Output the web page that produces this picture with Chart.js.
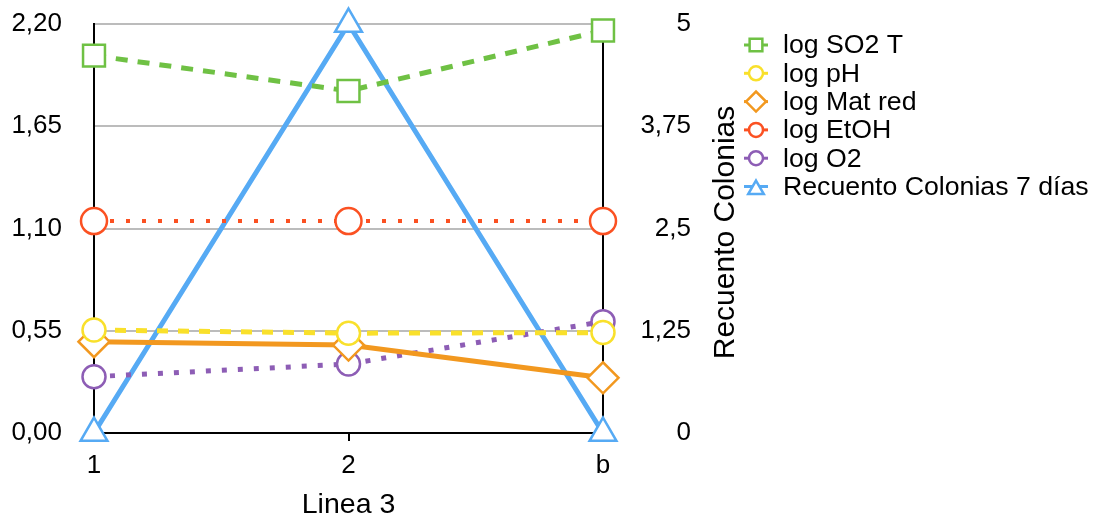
<!DOCTYPE html>
<html>
<head>
<meta charset="utf-8">
<script src="https://cdn.jsdelivr.net/npm/chart.js@4/dist/chart.umd.min.js"></script>
<style>
  html, body { margin: 0; padding: 0; background: #fff; }
  #wrap { width: 1098px; height: 526px; }
</style>
</head>
<body>
<div id="wrap"><canvas id="Chart" width="1098" height="526"></canvas></div>
<script>
// categorias del eje x
let categorias = ['1', '2', 'b'];

// series (eje izquierdo)
let logSO2T = [2.03, 1.84, 2.165];
let logPH = [0.554, 0.537, 0.540];
let logMatRed = [0.491, 0.473, 0.297];
let logEtOH = [1.140, 1.140, 1.140];
let logO2 = [0.303, 0.371, 0.599];
// serie eje derecho
let recuento7 = [0, 5, 0];

// marcas de los ejes
let ticksIzq = [0, 0.55, 1.10, 1.65, 2.20];
let etiquetasIzq = ['0,00', '0,55', '1,10', '1,65', '2,20'];
let ticksDer = [0, 1.25, 2.5, 3.75, 5];
let etiquetasDer = ['0', '1,25', '2,5', '3,75', '5'];

let fuente = "'Liberation Sans', Arial, sans-serif";

// titulo del eje derecho (leido de abajo hacia arriba) y leyenda
let extras = {
	id: 'extras',
	afterDraw(chart) {
		let ctx = chart.ctx;
		let yDer = chart.scales.yDer;
		ctx.save();
		ctx.fillStyle = '#000';
		ctx.font = '30px ' + fuente;
		ctx.textAlign = 'center';
		ctx.textBaseline = 'middle';
		ctx.translate(726, (yDer.top + yDer.bottom) / 2 + 4);
		ctx.rotate(-Math.PI / 2);
		ctx.fillText('Recuento Colonias', 0, 0);
		ctx.restore();

		// leyenda
		let radios = { rect: 9, circle: 7, rectRot: 10, triangle: 9 };
		chart.data.datasets.forEach(function (ds, i) {
			let y = 45 + i * 28.3;
			ctx.save();
			ctx.strokeStyle = ds.borderColor;
			ctx.lineWidth = 3;
			ctx.beginPath();
			ctx.moveTo(744, y);
			ctx.lineTo(768, y);
			ctx.stroke();
			ctx.fillStyle = '#fff';
			ctx.lineWidth = 2.5;
			Chart.helpers.drawPoint(ctx, {
				pointStyle: ds.pointStyle,
				radius: radios[ds.pointStyle],
				rotation: 0,
				borderWidth: 2.5
			}, 756, y + (ds.pointStyle === 'triangle' ? 3 : 0));
			ctx.fillStyle = '#000';
			ctx.font = '26.7px ' + fuente;
			ctx.textAlign = 'left';
			ctx.textBaseline = 'middle';
			ctx.fillText(ds.label, 783, y + 1);
			ctx.restore();
		});
	}
};

let ctx = document.getElementById('Chart');
let config = {
	type: 'line',
	data: {
		labels: categorias,
		datasets: [{
			label: 'log SO2 T',
			data: logSO2T,
			yAxisID: 'yIzq',
			borderColor: '#6fc144',
			borderWidth: 5,
			borderDash: [12, 10],
			pointStyle: 'rect',
			pointRadius: 15.5,
			pointBorderWidth: 2.5,
			pointBackgroundColor: '#fff',
		}, {
			label: 'log pH',
			data: logPH,
			yAxisID: 'yIzq',
			borderColor: '#f9e02b',
			borderWidth: 5,
			borderDash: [11, 10],
			pointStyle: 'circle',
			pointRadius: 11.5,
			pointBorderWidth: 2.5,
			pointBackgroundColor: '#fff',
		}, {
			label: 'log Mat red',
			data: logMatRed,
			yAxisID: 'yIzq',
			borderColor: '#f2981f',
			borderWidth: 5,
			pointStyle: 'rectRot',
			pointRadius: 15.5,
			pointBorderWidth: 2.5,
			pointBackgroundColor: '#fff',
		}, {
			label: 'log EtOH',
			data: logEtOH,
			yAxisID: 'yIzq',
			borderColor: '#fb5122',
			borderWidth: 4,
			borderDash: [4, 12],
			pointStyle: 'circle',
			pointRadius: 13,
			pointBorderWidth: 2.5,
			pointBackgroundColor: '#fff',
		}, {
			label: 'log O2',
			data: logO2,
			yAxisID: 'yIzq',
			borderColor: '#8d5db5',
			borderWidth: 5,
			borderDash: [5, 11],
			pointStyle: 'circle',
			pointRadius: 11.5,
			pointBorderWidth: 2.5,
			pointBackgroundColor: '#fff',
		}, {
			label: 'Recuento Colonias 7 días',
			data: recuento7,
			yAxisID: 'yDer',
			borderColor: '#56aaf4',
			borderWidth: 5,
			pointStyle: 'triangle',
			pointRadius: 15.5,
			pointBorderWidth: 2.5,
			pointBackgroundColor: '#fff',
		}],
	},
	options: {
		responsive: false,
		animation: false,
		clip: false,
		layout: { padding: { top: 24, left: 0, right: 407, bottom: 0 } },
		elements: { line: { tension: 0 } },
		plugins: {
			legend: { display: false },
			tooltip: { enabled: false },
		},
		scales: {
			x: {
				type: 'category',
				offset: false,
				grid: { display: true, drawOnChartArea: false, drawTicks: true, tickLength: 8, color: '#000', lineWidth: 2 },
				border: { display: true, color: '#000', width: 2 },
				ticks: { color: '#000', font: { family: fuente, size: 26 }, padding: 9, maxRotation: 0 },
				title: { display: true, text: 'Linea 3', color: '#000', font: { family: fuente, size: 28.5 }, padding: { top: 0, bottom: 4 } },
				afterFit(s) { s.height = 93; },
			},
			yIzq: {
				position: 'left',
				min: 0,
				max: 2.2,
				afterBuildTicks(s) { s.ticks = ticksIzq.map(v => ({ value: v })); },
				grid: { color: '#bcbcbc', lineWidth: 2, drawTicks: true, tickLength: 32, tickColor: 'rgba(0,0,0,0)' },
				border: { display: true, color: '#000', width: 2 },
				ticks: {
					color: '#000', font: { family: fuente, size: 26 }, padding: 0,
					callback: (v, i) => etiquetasIzq[i],
				},
				afterFit(s) { s.width = 94; },
			},
			yDer: {
				position: 'right',
				min: 0,
				max: 5,
				afterBuildTicks(s) { s.ticks = ticksDer.map(v => ({ value: v })); },
				grid: { drawOnChartArea: false, drawTicks: true, tickLength: 27, tickColor: 'rgba(0,0,0,0)' },
				border: { display: true, color: '#000', width: 2 },
				ticks: {
					color: '#000', font: { family: fuente, size: 26 }, padding: 0, crossAlign: 'far',
					callback: (v, i) => etiquetasDer[i],
				},
				afterFit(s) { s.width = 88; },
			},
		},
	},
	plugins: [extras],
};
let lineChart = new Chart(ctx, config);
</script>
</body>
</html>
